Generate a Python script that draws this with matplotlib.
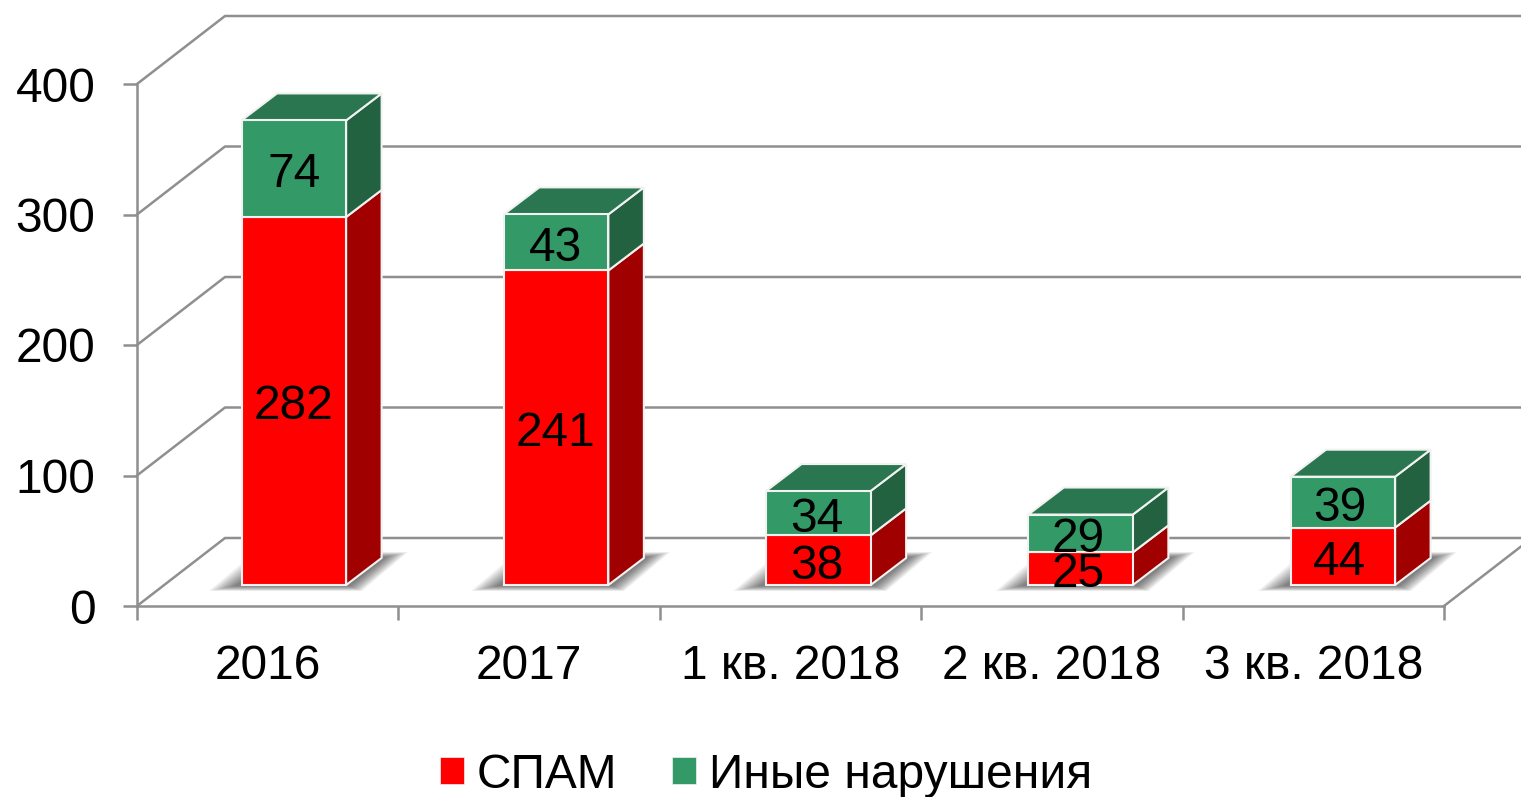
import matplotlib
matplotlib.use('Agg')
import matplotlib.pyplot as plt
from matplotlib.patches import Polygon, Patch

plt.rcParams['font.family'] = ['Liberation Sans', 'DejaVu Sans']

# data
categories = ['2016', '2017', '1 кв. 2018', '2 кв. 2018', '3 кв. 2018']
spam = [282, 241, 38, 25, 44]
other = [74, 43, 34, 29, 39]
yticks = [0, 100, 200, 300, 400]

W, H = 1521, 797
FS = 34.5
GRAY = '#8f8f8f'
LW = 1.8
EDGE = '#f2f2f2'

fig = plt.figure(figsize=(W / 100, H / 100), dpi=100)
ax = fig.add_axes([137 / W, (H - 606) / H, (1444 - 137) / W, (606 - 84) / H])
ax.set_xlim(0, 5)
ax.set_ylim(0, 400)

# pixels to data units
px = 5 / (1444 - 137)
py = 400 / (606 - 84)
floor = 21 * py
depth_x, depth_y = 35.5 * px, 27 * py
wall_x, wall_y = 88 * px, 68 * py
pitch = 262.25 * px

# walls
for v in yticks:
    ax.plot([0, wall_x, 6], [v, v + wall_y, v + wall_y], color=GRAY, lw=LW, clip_on=False, zorder=1)
ax.plot([5, 5 + wall_x], [0, wall_y], color=GRAY, lw=LW, clip_on=False, zorder=1)


def draw_box(x, w, y0, y1, front, side, top=None):
    ax.bar(x, y1 - y0, w, bottom=y0, color=front, edgecolor=EDGE, lw=1.5, zorder=5, clip_on=False)
    r = x + w / 2
    ax.add_patch(Polygon([(r, y0), (r + depth_x, y0 + depth_y), (r + depth_x, y1 + depth_y), (r, y1)],
                         fc=side, ec=EDGE, lw=1.5, zorder=4, clip_on=False))
    if top:
        l = x - w / 2
        ax.add_patch(Polygon([(l, y1), (r, y1), (r + depth_x, y1 + depth_y), (l + depth_x, y1 + depth_y)],
                             fc=top, ec=EDGE, lw=1.5, zorder=4, clip_on=False))


bar_w = 0.4
for i, cat in enumerate(categories):
    x = 0.6 + i * pitch
    l = x - bar_w / 2
    r = x + bar_w / 2
    # soft shadow on the floor
    n = 16
    for k in range(n):
        t = k / (n - 1)
        pts = [(l + (-33 + 26 * t) * px, floor + (-6 + 5 * t) * py),
               (r + (16 - 12 * t) * px, floor + (-6 + 5 * t) * py),
               (r + (62 - 22 * t) * px, floor + (33 - 5 * t) * py),
               (l + (13 + 26 * t) * px, floor + (33 - 5 * t) * py)]
        ax.add_patch(Polygon(pts, fc='black', ec='none', alpha=0.04, zorder=2, clip_on=False))
    b1 = floor + spam[i]
    b2 = b1 + other[i]
    draw_box(x, bar_w, floor, b1, '#ff0000', '#a00000')
    draw_box(x, bar_w, b1, b2, '#339966', '#226240', '#2a7650')
    # labels sit a little left of the bar centre on the later bars
    ax.text(i + 0.6, floor + spam[i] / 2 - 6 * py, str(spam[i]), ha='center', va='center', fontsize=FS, zorder=6)
    ax.text(i + 0.6, b1 + other[i] / 2 - 6 * py, str(other[i]), ha='center', va='center', fontsize=FS, zorder=6)

# axes
for s in ['top', 'right']:
    ax.spines[s].set_visible(False)
for s in ['left', 'bottom']:
    ax.spines[s].set_color(GRAY)
    ax.spines[s].set_linewidth(LW)
ax.set_yticks(yticks)
ax.tick_params(axis='y', length=10, width=LW, color=GRAY, labelsize=FS, pad=20)
ax.set_xticks(range(6))
ax.set_xticklabels([])
ax.set_xticks([i + 0.5 for i in range(5)], categories, minor=True)
ax.tick_params(axis='x', which='major', length=10, width=LW, color=GRAY)
ax.tick_params(axis='x', which='minor', length=0, labelsize=FS, pad=27.5)
ax.patch.set_alpha(0)

handles = [Patch(fc='#ff0000', ec=EDGE, lw=0.5, label='СПАМ'),
           Patch(fc='#339966', ec=EDGE, lw=0.5, label='Иные нарушения')]
fig.legend(handles=handles, ncol=2, loc='center', bbox_to_anchor=(766 / W, (H - 775) / H), frameon=False,
           fontsize=FS, handlelength=0.5, handleheight=0.5, handletextpad=0.27, columnspacing=1.15,
           borderpad=0, borderaxespad=0)

fig.savefig('out.png', dpi=100)
